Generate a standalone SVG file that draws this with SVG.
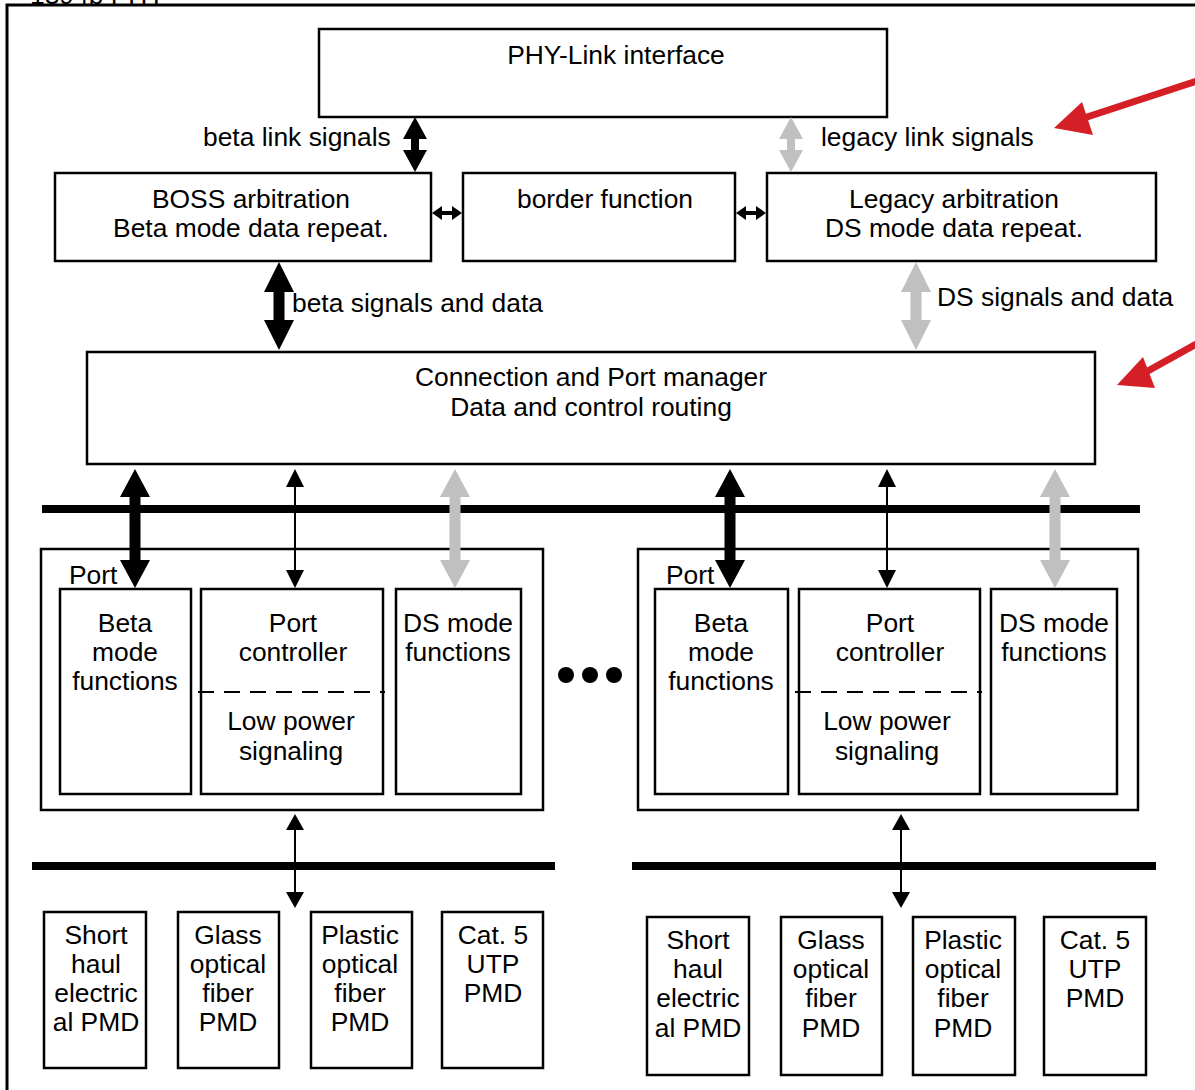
<svg xmlns="http://www.w3.org/2000/svg" width="1195" height="1090" viewBox="0 0 1195 1090">
<style>
.box{fill:#fff;stroke:#000;stroke-width:2.5}
.t{font-family:"Liberation Sans",Arial,sans-serif;font-size:26.4px;fill:#000}
.c{text-anchor:middle}
.bus{stroke:#000;stroke-width:8}
.blk{fill:#000}
.gry{fill:#c0c0c0}
.thin{stroke:#000;stroke-width:2}
.red{fill:#d51f26}
</style>
<rect width="1195" height="1090" fill="#fff"/>
<g id="frame">
<path d="M7,1095 V5 H1200" fill="none" stroke="#000" stroke-width="3"/>
<text class="t" x="30" y="4">1394b PHY</text>
</g>
<g id="phy-link">
<rect class="box" x="319" y="29" width="568" height="88"/>
<text class="t c" x="616" y="64">PHY-Link interface</text>
</g>
<g id="boss">
<rect class="box" x="55" y="173" width="376" height="88"/>
<text class="t c" x="251" y="208">BOSS arbitration</text>
<text class="t c" x="251" y="237">Beta mode data repeat.</text>
</g>
<g id="border">
<rect class="box" x="463" y="173" width="272" height="88"/>
<text class="t c" x="605" y="208">border function</text>
</g>
<g id="legacy">
<rect class="box" x="767" y="173" width="389" height="88"/>
<text class="t c" x="954" y="208">Legacy arbitration</text>
<text class="t c" x="954" y="237">DS mode data repeat.</text>
</g>
<g id="cpm">
<rect class="box" x="87" y="352" width="1008" height="112"/>
<text class="t c" x="591" y="386">Connection and Port manager</text>
<text class="t c" x="591" y="416">Data and control routing</text>
</g>
<g id="port-left">
<rect class="box" x="41" y="549" width="502" height="261"/>
<text class="t" x="69" y="584">Port</text>
<rect class="box" x="60" y="589" width="131" height="205"/>
<text class="t c" x="125" y="632">Beta</text>
<text class="t c" x="125" y="661">mode</text>
<text class="t c" x="125" y="690">functions</text>
<rect class="box" x="201" y="589" width="182" height="205"/>
<text class="t c" x="293" y="632">Port</text>
<text class="t c" x="293" y="661">controller</text>
<line x1="198" y1="692" x2="385" y2="692" stroke="#000" stroke-width="2" stroke-dasharray="16,10"/>
<text class="t c" x="291" y="730">Low power</text>
<text class="t c" x="291" y="760">signaling</text>
<rect class="box" x="396" y="589" width="125" height="205"/>
<text class="t c" x="458" y="632">DS mode</text>
<text class="t c" x="458" y="661">functions</text>
</g>
<g id="ellipsis">
<circle cx="566" cy="675" r="8"/>
<circle cx="590" cy="675" r="8"/>
<circle cx="614" cy="675" r="8"/>
</g>
<g id="port-right">
<rect class="box" x="638" y="549" width="500" height="261"/>
<text class="t" x="666" y="584">Port</text>
<rect class="box" x="655" y="589" width="133" height="205"/>
<text class="t c" x="721" y="632">Beta</text>
<text class="t c" x="721" y="661">mode</text>
<text class="t c" x="721" y="690">functions</text>
<rect class="box" x="799" y="589" width="181" height="205"/>
<text class="t c" x="890" y="632">Port</text>
<text class="t c" x="890" y="661">controller</text>
<line x1="795" y1="692" x2="982" y2="692" stroke="#000" stroke-width="2" stroke-dasharray="16,10"/>
<text class="t c" x="887" y="730">Low power</text>
<text class="t c" x="887" y="760">signaling</text>
<rect class="box" x="991" y="589" width="126" height="205"/>
<text class="t c" x="1054" y="632">DS mode</text>
<text class="t c" x="1054" y="661">functions</text>
</g>
<g id="pmd-left">
<rect class="box" x="44" y="912" width="102" height="156"/>
<text class="t c" x="96" y="944">Short</text>
<text class="t c" x="96" y="973">haul</text>
<text class="t c" x="96" y="1002">electric</text>
<text class="t c" x="96" y="1031">al PMD</text>
<rect class="box" x="178" y="912" width="101" height="156"/>
<text class="t c" x="228" y="944">Glass</text>
<text class="t c" x="228" y="973">optical</text>
<text class="t c" x="228" y="1002">fiber</text>
<text class="t c" x="228" y="1031">PMD</text>
<rect class="box" x="311" y="912" width="101" height="156"/>
<text class="t c" x="360" y="944">Plastic</text>
<text class="t c" x="360" y="973">optical</text>
<text class="t c" x="360" y="1002">fiber</text>
<text class="t c" x="360" y="1031">PMD</text>
<rect class="box" x="442" y="912" width="101" height="156"/>
<text class="t c" x="493" y="944">Cat. 5</text>
<text class="t c" x="493" y="973">UTP</text>
<text class="t c" x="493" y="1002">PMD</text>
</g>
<g id="pmd-right">
<rect class="box" x="647" y="917" width="102" height="158"/>
<text class="t c" x="698" y="949">Short</text>
<text class="t c" x="698" y="978">haul</text>
<text class="t c" x="698" y="1007">electric</text>
<text class="t c" x="698" y="1037">al PMD</text>
<rect class="box" x="781" y="917" width="101" height="158"/>
<text class="t c" x="831" y="949">Glass</text>
<text class="t c" x="831" y="978">optical</text>
<text class="t c" x="831" y="1007">fiber</text>
<text class="t c" x="831" y="1037">PMD</text>
<rect class="box" x="913" y="917" width="102" height="158"/>
<text class="t c" x="963" y="949">Plastic</text>
<text class="t c" x="963" y="978">optical</text>
<text class="t c" x="963" y="1007">fiber</text>
<text class="t c" x="963" y="1037">PMD</text>
<rect class="box" x="1044" y="917" width="102" height="158"/>
<text class="t c" x="1095" y="949">Cat. 5</text>
<text class="t c" x="1095" y="978">UTP</text>
<text class="t c" x="1095" y="1007">PMD</text>
</g>
<g id="connectors">
<line class="bus" x1="42" y1="509" x2="1140" y2="509"/>
<line class="bus" x1="32" y1="866" x2="555" y2="866"/>
<line class="bus" x1="632" y1="866" x2="1156" y2="866"/>
<polygon class="blk" points="415,117 427,139 419,139 419,150 427,150 415,172 403,150 411,150 411,139 403,139"/>
<polygon class="gry" points="791,117 803,139 795,139 795,150 803,150 791,172 779,150 787,150 787,139 779,139"/>
<text class="t" x="203" y="146">beta link signals</text>
<text class="t" x="821" y="146">legacy link signals</text>
<polygon class="blk" points="432,213 442,206 442,211 452,211 452,206 462,213 452,220 452,215 442,215 442,220"/>
<polygon class="blk" points="736,213 746,206 746,211 756,211 756,206 766,213 756,220 756,215 746,215 746,220"/>
<polygon class="blk" points="279,262 294,292 284.5,292 284.5,320 294,320 279,350 264,320 273.5,320 273.5,292 264,292"/>
<polygon class="gry" points="916,262 931,292 921.5,292 921.5,320 931,320 916,350 901,320 910.5,320 910.5,292 901,292"/>
<text class="t" x="292" y="312">beta signals and data</text>
<text class="t" x="937" y="306">DS signals and data</text>
<polygon class="blk" points="135,469 150,497 140.5,497 140.5,560 150,560 135,588 120,560 129.5,560 129.5,497 120,497"/>
<polygon class="gry" points="455,469 470,497 460.5,497 460.5,560 470,560 455,588 440,560 449.5,560 449.5,497 440,497"/>
<polygon class="blk" points="730,469 745,497 735.5,497 735.5,560 745,560 730,588 715,560 724.5,560 724.5,497 715,497"/>
<polygon class="gry" points="1055,469 1070,497 1060.5,497 1060.5,560 1070,560 1055,588 1040,560 1049.5,560 1049.5,497 1040,497"/>
<line class="thin" x1="295" y1="480" x2="295" y2="578"/>
<polygon class="blk" points="295,469 304,487 286,487"/>
<polygon class="blk" points="295,588 286,570 304,570"/>
<line class="thin" x1="887" y1="480" x2="887" y2="578"/>
<polygon class="blk" points="887,469 896,487 878,487"/>
<polygon class="blk" points="887,588 878,570 896,570"/>
<line class="thin" x1="295" y1="824" x2="295" y2="898"/>
<polygon class="blk" points="295,814 304,830 286,830"/>
<polygon class="blk" points="295,908 286,892 304,892"/>
<line class="thin" x1="901" y1="824" x2="901" y2="898"/>
<polygon class="blk" points="901,814 910,830 892,830"/>
<polygon class="blk" points="901,908 892,892 910,892"/>
<line x1="1200" y1="80" x2="1084" y2="118" stroke="#d51f26" stroke-width="7"/>
<polygon class="red" points="1054,128 1082,102 1093,135"/>
<line x1="1200" y1="342" x2="1146" y2="372" stroke="#d51f26" stroke-width="7"/>
<polygon class="red" points="1117,385 1143,357 1155,388"/>
</g>
</svg>
